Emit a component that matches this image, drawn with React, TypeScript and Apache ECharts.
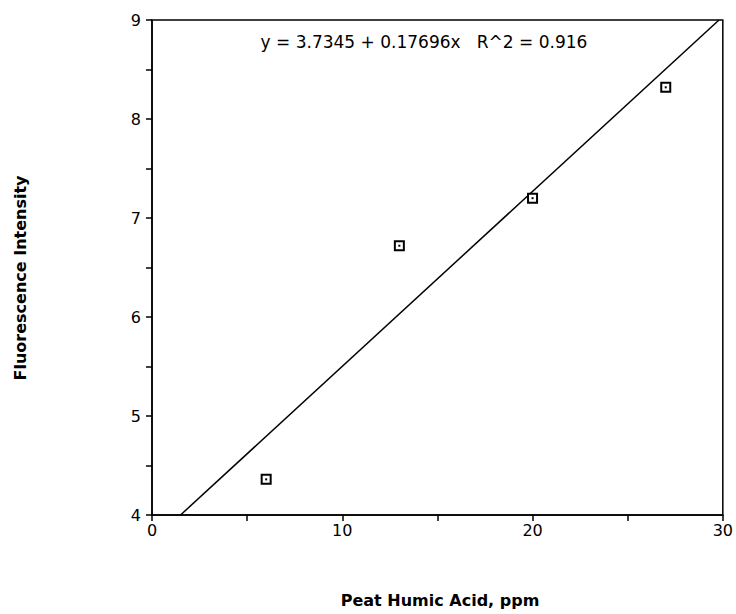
import React, { useEffect, useRef } from "react";
import * as echarts from "echarts";

const xValues = [6, 13, 20, 27];
const yValues = [4.36, 6.72, 7.2, 8.32];
const fitLine = [
  [1.5, 4.0],
  [29.8, 9.0],
];
const equationText = "y = 3.7345 + 0.17696x   R^2 = 0.916";
const xTitle = "Peat Humic Acid, ppm";
const yTitle = "Fluorescence Intensity";

export default function App() {
  const ref = useRef<HTMLDivElement>(null);
  useEffect(() => {
    document.body.style.margin = "0";
    if (!ref.current) return;
    const chart = echarts.init(ref.current, null, { renderer: "svg" });
    const pts = xValues.map((x, i) => [x, yValues[i]]);
    const font = "DejaVu Sans";
    chart.setOption({
      animation: false,
      backgroundColor: "#ffffff",
      grid: {
        left: 152,
        right: 13,
        top: 20,
        bottom: 99,
        show: true,
        borderColor: "#000",
        borderWidth: 1.5,
      },
      xAxis: {
        type: "value",
        min: 0,
        max: 30,
        interval: 5,
        splitLine: { show: false },
        axisLine: { lineStyle: { color: "#000", width: 1.5 } },
        axisTick: { length: 6, lineStyle: { color: "#000", width: 1.5 } },
        axisLabel: {
          color: "#000",
          fontFamily: font,
          fontSize: 16,
          margin: 7,
          formatter: (v: number) => (v % 10 === 0 ? String(v) : ""),
        },
      },
      yAxis: {
        type: "value",
        min: 4,
        max: 9,
        interval: 0.5,
        splitLine: { show: false },
        axisLine: { lineStyle: { color: "#000", width: 1.5 } },
        axisTick: { length: 6, lineStyle: { color: "#000", width: 1.5 } },
        axisLabel: {
          color: "#000",
          fontFamily: font,
          fontSize: 16,
          margin: 11,
          formatter: (v: number) => (Number.isInteger(v) ? String(v) : ""),
        },
      },
      graphic: [
        {
          type: "text",
          x: 424,
          y: 42,
          style: {
            text: equationText,
            fontFamily: font,
            fontSize: 17,
            fill: "#000",
            align: "center",
            verticalAlign: "middle",
          },
        },
        {
          type: "text",
          x: 440,
          y: 600,
          style: {
            text: xTitle,
            fontFamily: font,
            fontWeight: "bold",
            fontSize: 16,
            fill: "#000",
            align: "center",
            verticalAlign: "middle",
          },
        },
        {
          type: "text",
          x: 20,
          y: 278,
          rotation: Math.PI / 2,
          style: {
            text: yTitle,
            fontFamily: font,
            fontWeight: "bold",
            fontSize: 16,
            fill: "#000",
            align: "center",
            verticalAlign: "middle",
          },
        },
      ],
      series: [
        {
          type: "line",
          data: fitLine,
          showSymbol: false,
          lineStyle: { color: "#000", width: 1.5 },
          z: 2,
        },
        {
          type: "scatter",
          data: pts,
          symbol: "rect",
          symbolSize: 9,
          itemStyle: { color: "#fff", borderColor: "#000", borderWidth: 2, opacity: 1 },
          z: 3,
        },
        {
          type: "scatter",
          data: pts,
          symbol: "rect",
          symbolSize: 2,
          itemStyle: { color: "#000", opacity: 1 },
          z: 4,
        },
      ],
    });
    return () => chart.dispose();
  }, []);
  return <div ref={ref} style={{ width: 736, height: 614 }} />;
}
